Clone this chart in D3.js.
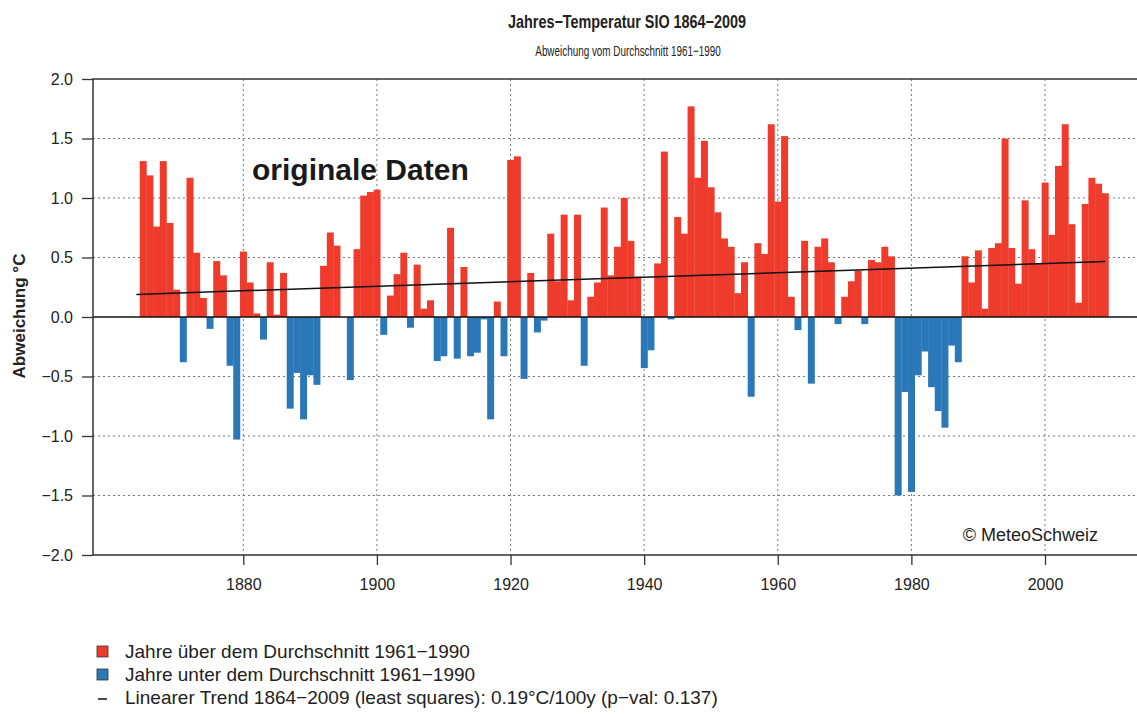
<!DOCTYPE html>
<html lang="de">
<head>
  <meta charset="UTF-8"/>
  <title>Jahres-Temperatur SIO 1864-2009</title>
  <script src="https://d3js.org/d3.v7.min.js"></script>
  <style>
    body { margin: 0; background: #fff; }
    svg { font-family: "Liberation Sans", Arial, sans-serif; }
    .grid line { stroke: #777; stroke-width: 1; stroke-dasharray: 2,3; }
    .tick text { fill: #222; }
  </style>
</head>
<body>
<svg width="1137" height="715"></svg>
<script>
// annual anomalies (deg C vs 1961-1990), one value per year from 1864
const firstYear = 1864
const anomalies = [
  0.00, 1.31, 1.19, 0.76, 1.31, 0.79, 0.23,                   // 1864-1870
  -0.38, 1.17, 0.54, 0.16, -0.10, 0.47, 0.35, -0.41, -1.03, 0.55, // 1871-1880
  0.29, 0.03, -0.19, 0.46, 0.02, 0.37, -0.77, -0.47, -0.86, -0.49, // 1881-1890
  -0.57, 0.43, 0.71, 0.60, 0.00, -0.53, 0.57, 1.02, 1.05, 1.07,    // 1891-1900
  -0.15, 0.18, 0.36, 0.54, -0.09, 0.44, 0.07, 0.14, -0.37, -0.33,  // 1901-1910
  0.75, -0.35, 0.42, -0.33, -0.30, -0.02, -0.86, 0.13, -0.33, 1.32, // 1911-1920
  1.35, -0.52, 0.37, -0.13, -0.03, 0.70, 0.30, 0.86, 0.14, 0.86,   // 1921-1930
  -0.41, 0.17, 0.29, 0.92, 0.35, 0.59, 1.00, 0.64, 0.34, -0.43,    // 1931-1940
  -0.28, 0.45, 1.39, -0.02, 0.84, 0.70, 1.77, 1.17, 1.48, 1.09,    // 1941-1950
  0.88, 0.66, 0.59, 0.20, 0.46, -0.67, 0.62, 0.53, 1.62, 0.97,     // 1951-1960
  1.52, 0.17, -0.11, 0.64, -0.56, 0.59, 0.66, 0.46, -0.06, 0.17,   // 1961-1970
  0.30, 0.39, -0.06, 0.48, 0.46, 0.59, 0.51, -1.50, -0.63, -1.47,  // 1971-1980
  -0.49, -0.29, -0.59, -0.79, -0.93, -0.24, -0.38, 0.51, 0.29, 0.56, // 1981-1990
  0.07, 0.58, 0.62, 1.50, 0.58, 0.28, 0.98, 0.57, 0.45, 1.13,      // 1991-2000
  0.69, 1.27, 1.62, 0.78, 0.12, 0.95, 1.17, 1.12, 1.04             // 2001-2009
]
const years = anomalies.map((v, i) => firstYear + i)

// linear trend as given in the legend
const trendAt1864 = 0.19
const trendPerYear = 0.19 / 100

const yTicks = [-2.0, -1.5, -1.0, -0.5, 0.0, 0.5, 1.0, 1.5, 2.0]
const yGrid = [-1.5, -1.0, -0.5, 0.5, 1.0, 1.5]
const xTicks = [1880, 1900, 1920, 1940, 1960, 1980, 2000]

const legendItems = [
  { type: 'box', color: '#ee3b2b', label: 'Jahre über dem Durchschnitt 1961\u22121990' },
  { type: 'box', color: '#2b78b9', label: 'Jahre unter dem Durchschnitt 1961\u22121990' },
  { type: 'line', color: '#111', label: 'Linearer Trend 1864\u22122009 (least squares): 0.19°C/100y (p\u2212val: 0.137)' }
]

const svg = d3.select('svg')
const plotLeft = 93, plotTop = 79, plotBottom = 555, plotRight = 1140

const x = d3.scaleLinear().domain([1880, 2000]).range([243.3, 1045])
const y = d3.scaleLinear().domain([-2, 2]).range([plotBottom, plotTop])

// grid
const grid = svg.append('g').attr('class', 'grid')
grid.selectAll('.hg')
  .data(yGrid)
  .enter()
  .append('line')
  .attr('x1', plotLeft).attr('x2', plotRight)
  .attr('y1', d => y(d)).attr('y2', d => y(d))
grid.selectAll('.vg')
  .data(xTicks)
  .enter()
  .append('line')
  .attr('x1', d => x(d)).attr('x2', d => x(d))
  .attr('y1', plotTop).attr('y2', plotBottom)

// bars
svg.append('g')
  .selectAll('rect')
  .data(years)
  .enter()
  .append('rect')
  .attr('x', (yr) => x(yr - 0.5))
  .attr('width', (yr) => x(yr + 0.5) - x(yr - 0.5) + 0.3)
  .attr('y', (yr, i) => y(Math.max(0, anomalies[i])))
  .attr('height', (yr, i) => Math.abs(y(anomalies[i]) - y(0)))
  .attr('fill', (yr, i) => anomalies[i] >= 0 ? legendItems[0].color : legendItems[1].color)

// zero line
svg.append('line')
  .attr('x1', plotLeft).attr('x2', plotRight)
  .attr('y1', y(0)).attr('y2', y(0))
  .attr('stroke', '#111').attr('stroke-width', 1.6)

// trend
const lastYear = years[years.length - 1]
svg.append('line')
  .attr('x1', x(firstYear)).attr('y1', y(trendAt1864))
  .attr('x2', x(lastYear)).attr('y2', y(trendAt1864 + trendPerYear * (lastYear - firstYear)))
  .attr('stroke', '#111').attr('stroke-width', 1.5)

// frame
svg.append('path')
  .attr('d', `M${plotRight},${plotTop}H${plotLeft}V${plotBottom}H${plotRight}`)
  .attr('fill', 'none').attr('stroke', '#333').attr('stroke-width', 1.5)

// axes
svg.append('g')
  .attr('transform', `translate(${plotLeft},0)`)
  .call(d3.axisLeft(y).tickValues(yTicks).tickSize(11).tickPadding(9)
    .tickFormat(d => d3.format('.1f')(d).replace('-', '\u2212')))
  .call(g => g.select('.domain').remove())
  .call(g => g.selectAll('line').attr('stroke', '#333').attr('stroke-width', 1.3))
  .call(g => g.selectAll('text').attr('font-size', 16).attr('font-family', null))

svg.append('g')
  .attr('transform', `translate(0,${plotBottom})`)
  .call(d3.axisBottom(x).tickValues(xTicks).tickSize(10).tickPadding(14).tickFormat(d3.format('d')))
  .call(g => g.select('.domain').remove())
  .call(g => g.selectAll('line').attr('stroke', '#333').attr('stroke-width', 1.3))
  .call(g => g.selectAll('text').attr('font-size', 16).attr('font-family', null))

// titles (the original lettering is condensed)
svg.append('text')
  .attr('transform', 'translate(627,28) scale(0.8,1)')
  .attr('text-anchor', 'middle')
  .attr('font-size', 18).attr('font-weight', 'bold').attr('fill', '#222')
  .text('Jahres\u2212Temperatur SIO 1864\u22122009')

svg.append('text')
  .attr('transform', 'translate(628,56) scale(0.66,1)')
  .attr('text-anchor', 'middle')
  .attr('font-size', 15).attr('fill', '#222')
  .text('Abweichung vom Durchschnitt 1961\u22121990')

svg.append('text')
  .attr('transform', 'translate(25,316) rotate(-90)')
  .attr('text-anchor', 'middle')
  .attr('font-size', 17).attr('font-weight', 'bold').attr('fill', '#222')
  .text('Abweichung °C')

svg.append('text')
  .attr('x', 252).attr('y', 180)
  .attr('font-size', 30).attr('font-weight', 'bold').attr('fill', '#1a1a1a')
  .text('originale Daten')

svg.append('text')
  .attr('x', 1098).attr('y', 541)
  .attr('text-anchor', 'end')
  .attr('font-size', 18).attr('fill', '#222')
  .text('© MeteoSchweiz')

// legend
const legend = svg.append('g').attr('transform', 'translate(97,646)')
const rows = legend.selectAll('g')
  .data(legendItems)
  .enter()
  .append('g')
  .attr('transform', (d, i) => `translate(0,${i * 23})`)

rows.filter(d => d.type === 'box')
  .append('rect')
  .attr('width', 11).attr('height', 11)
  .attr('fill', d => d.color).attr('stroke', '#333').attr('stroke-width', 0.8)
rows.filter(d => d.type === 'line')
  .append('line')
  .attr('x1', 1).attr('x2', 10).attr('y1', 7).attr('y2', 7)
  .attr('stroke', d => d.color).attr('stroke-width', 1.5)
rows.append('text')
  .attr('x', 28).attr('y', 12)
  .attr('font-size', 19).attr('fill', '#222')
  .text(d => d.label)
</script>
</body>
</html>
